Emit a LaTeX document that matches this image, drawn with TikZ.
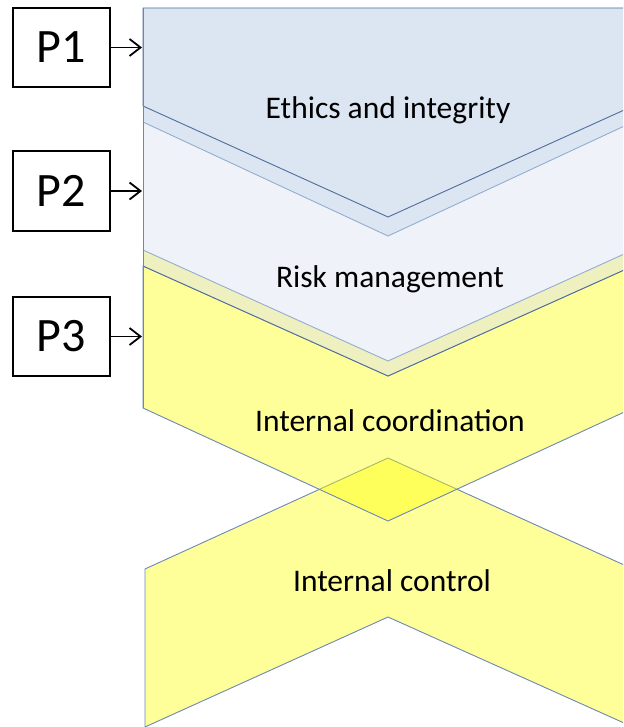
\documentclass[tikz,border=0pt]{standalone}
\usepackage{fontspec}
\setmainfont{Carlito}
\usetikzlibrary{arrows.meta}
\definecolor{blueA}{HTML}{DCE6F2}
\definecolor{blueB}{HTML}{EFF3F9}
\definecolor{bandY}{HTML}{EEF0BF}
\definecolor{yellowC}{HTML}{FFFF00}
\definecolor{darkE}{HTML}{4F6D9B}
\definecolor{lightE}{HTML}{94ACCF}
\definecolor{midE}{HTML}{6A88B3}
\tikzset{
  pbox/.style={draw=black, line width=2pt, minimum width=97pt, minimum height=79pt, inner sep=0pt, font=\fontsize{48}{52}\selectfont},
  parrow/.style={draw=black, line width=1.8pt, -{Straight Barb[length=11pt,width=17pt,line width=1.8pt]}},
  lbl/.style={anchor=base, inner sep=0pt, font=\fontsize{31.5}{36}\selectfont},
  yshape/.style={fill=yellowC, fill opacity=0.4, draw=midE, line width=0.9pt}
}
\begin{document}
\begin{tikzpicture}[x=1pt,y=-1pt]
\useasboundingbox (0,0) rectangle (623,727);
\begin{scope}
\clip (0,0) rectangle (623,727);
% Internal control (up chevron)
\path[yshape] (145,569) -- (388,458) -- (633,569) -- (633,727) -- (388,617) -- (145,727) -- cycle;
% Internal coordination
\path[yshape] (143,266) -- (388,376) -- (633,266) -- (633,408) -- (388,521) -- (143,408) -- cycle;
% band 2
\path[fill=bandY] (143,250) -- (388,361) -- (633,250) -- (633,266) -- (388,376) -- (143,266) -- cycle;
\draw[darkE, line width=0.9pt] (143,266) -- (388,376) -- (633,266);
% Risk management
\path[fill=blueB] (143,122) -- (388,236) -- (633,122) -- (633,250) -- (388,361) -- (143,250) -- cycle;
\draw[lightE, line width=0.9pt] (143,250) -- (388,361) -- (633,250);
% band 1
\path[fill=blueA] (143,106) -- (388,217) -- (633,106) -- (633,122) -- (388,236) -- (143,122) -- cycle;
\draw[lightE, line width=0.9pt] (143,122) -- (388,236) -- (633,122);
% Ethics
\path[fill=blueA, draw=darkE, line width=0.9pt] (143,8) -- (633,8) -- (633,106) -- (388,217) -- (143,106) -- cycle;
% left edge
\draw[midE, line width=0.9pt] (143,8) -- (143,408);
\end{scope}
% labels
\node[lbl] (eth) at (388,119) {Ethics and integrity};
\node[lbl] (risk) at (390,287) {Risk management};
\node[lbl] (coord) at (390,431) {Internal coordination};
\node[lbl] (ctrl) at (392,591) {Internal control};
% P boxes
\node[pbox] (p1) at (61.5,47.5) {P1};
\node[pbox] (p2) at (61.5,191) {P2};
\node[pbox] (p3) at (61.5,336.5) {P3};
\coordinate (e1) at (142,47.5);
\coordinate (e2) at (142,191);
\coordinate (e3) at (142,336.5);
\draw[parrow] (p1) -- (e1);
\draw[parrow] (p2) -- (e2);
\draw[parrow] (p3) -- (e3);
\end{tikzpicture}
\end{document}
